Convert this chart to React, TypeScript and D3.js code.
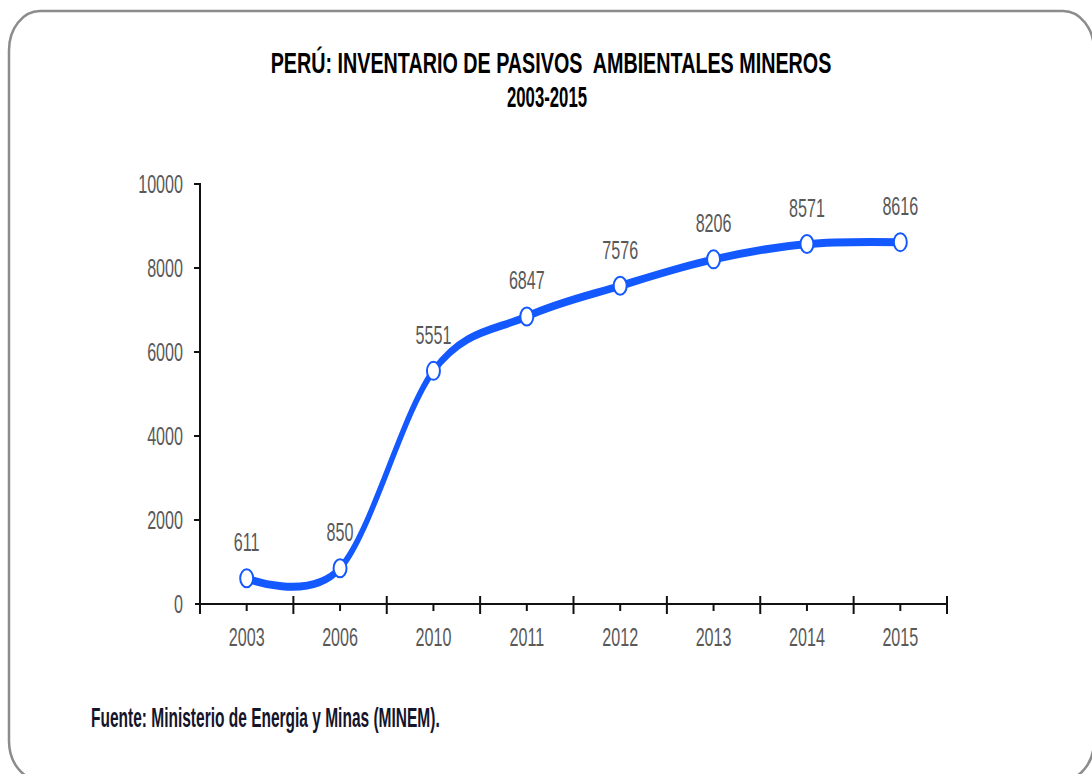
import { useEffect, useRef } from "react";
import * as d3 from "d3";

// data
const years = ["2003", "2006", "2010", "2011", "2012", "2013", "2014", "2015"];
const pasivos = [611, 850, 5551, 6847, 7576, 8206, 8571, 8616];
const yTicks = [0, 2000, 4000, 6000, 8000, 10000];

const titleLines = ["PERÚ: INVENTARIO DE PASIVOS  AMBIENTALES MINEROS", "2003-2015"];
const source = "Fuente: Ministerio de Energia y Minas (MINEM).";

// the original picture is squeezed horizontally, so text and line get squeezed too
const SX = 0.62;
const FONT = "'Liberation Sans', Arial, sans-serif";
const BLUE = "#1458ff";
const GREY = "#595959";

// squeeze a text horizontally so it fills the given width
const fitText = (
  sel: d3.Selection<SVGTextElement, unknown, null, undefined>,
  x: number,
  y: number,
  targetW: number
) => {
  const natural = (sel.node() as SVGTextElement).getComputedTextLength() || targetW;
  sel.attr("transform", `translate(${x},${y}) scale(${targetW / natural},1)`);
};

const PasivosChart = () => {
  const svgRef = useRef<SVGSVGElement>(null);

  useEffect(() => {
    if (!svgRef.current) return;
    const svg = d3.select(svgRef.current);
    svg.selectAll("*").remove();

    const width = 1092;
    const height = 774;
    svg.attr("width", width).attr("height", height);

    // rounded frame
    svg
      .append("rect")
      .attr("x", 9)
      .attr("y", 11)
      .attr("width", 1085)
      .attr("height", 769)
      .attr("rx", 31)
      .attr("ry", 39)
      .attr("fill", "none")
      .attr("stroke", "#8c8c8c")
      .attr("stroke-width", 2.5);

    // title
    const titleX = [551, 547];
    const titleY = [73, 107];
    const titleW = [561, 80];
    titleLines.forEach((t, i) => {
      const txt = svg
        .append("text")
        .attr("text-anchor", "middle")
        .attr("font-family", FONT)
        .attr("font-weight", "bold")
        .attr("font-size", 29)
        .style("white-space", "pre")
        .text(t);
      fitText(txt as any, titleX[i], titleY[i], titleW[i]);
    });

    // scales
    const x = d3.scaleBand().domain(years).range([200, 947]).padding(0);
    const y = d3.scaleLinear().domain([0, 10000]).range([604, 184]);
    const cx = (d: string) => (x(d) as number) + x.bandwidth() / 2;

    const axis = svg.append("g").attr("stroke", "#111").attr("stroke-width", 2);

    // y axis
    axis.append("line").attr("x1", 200).attr("x2", 200).attr("y1", y(10000) - 1).attr("y2", 614);
    axis
      .selectAll(".ytick")
      .data(yTicks.filter((t) => t > 0))
      .enter()
      .append("line")
      .attr("x1", 194)
      .attr("x2", 200)
      .attr("y1", (d) => y(d))
      .attr("y2", (d) => y(d));

    // x axis
    axis.append("line").attr("x1", 195).attr("x2", 947).attr("y1", y(0)).attr("y2", y(0));
    axis
      .selectAll(".xmajor")
      .data(d3.range(1, years.length + 1))
      .enter()
      .append("line")
      .attr("x1", (i) => 200 + i * x.bandwidth())
      .attr("x2", (i) => 200 + i * x.bandwidth())
      .attr("y1", 596)
      .attr("y2", 614);
    axis
      .selectAll(".xminor")
      .data(years)
      .enter()
      .append("line")
      .attr("x1", (d) => cx(d))
      .attr("x2", (d) => cx(d))
      .attr("y1", y(0))
      .attr("y2", y(0) + 7);

    // tick labels
    svg
      .selectAll(".ylabel")
      .data(yTicks)
      .enter()
      .append("text")
      .attr("transform", (d) => `translate(183,${y(d) + 9}) scale(${SX},1)`)
      .attr("text-anchor", "end")
      .attr("font-family", FONT)
      .attr("font-size", 26)
      .attr("fill", GREY)
      .text((d) => d);

    svg
      .selectAll(".xlabel")
      .data(years)
      .enter()
      .append("text")
      .attr("transform", (d) => `translate(${cx(d)},646) scale(${SX},1)`)
      .attr("text-anchor", "middle")
      .attr("font-family", FONT)
      .attr("font-size", 26)
      .attr("fill", GREY)
      .text((d) => d);

    // smoothed line, drawn in unsqueezed space then squeezed
    const line = d3
      .line<number>()
      .x((d, i) => cx(years[i]) / SX)
      .y((d) => y(d))
      .curve(d3.curveCardinal.tension(0));

    svg
      .append("g")
      .attr("transform", `scale(${SX},1)`)
      .append("path")
      .attr("d", line(pasivos))
      .attr("fill", "none")
      .attr("stroke", BLUE)
      .attr("stroke-width", 8)
      .attr("stroke-linecap", "round");

    // markers
    svg
      .selectAll(".marker")
      .data(pasivos)
      .enter()
      .append("ellipse")
      .attr("cx", (d, i) => cx(years[i]))
      .attr("cy", (d) => y(d))
      .attr("rx", 6.5)
      .attr("ry", 9)
      .attr("fill", "#fff")
      .attr("stroke", BLUE)
      .attr("stroke-width", 2);

    // value labels
    svg
      .selectAll(".value")
      .data(pasivos)
      .enter()
      .append("text")
      .attr("transform", (d, i) => `translate(${cx(years[i])},${y(d) - 27}) scale(${SX},1)`)
      .attr("text-anchor", "middle")
      .attr("font-family", FONT)
      .attr("font-size", 26)
      .attr("fill", GREY)
      .text((d) => d);

    // source note
    const note = svg
      .append("text")
      .attr("font-family", FONT)
      .attr("font-weight", "bold")
      .attr("font-size", 27)
      .attr("fill", "#15152a")
      .text(source);
    fitText(note as any, 91, 727, 349);
  }, []);

  return (
    <svg
      ref={svgRef}
      style={{ position: "absolute", left: 0, top: 0, display: "block", background: "#fff" }}
    ></svg>
  );
};

export default function App() {
  return <PasivosChart />;
}
